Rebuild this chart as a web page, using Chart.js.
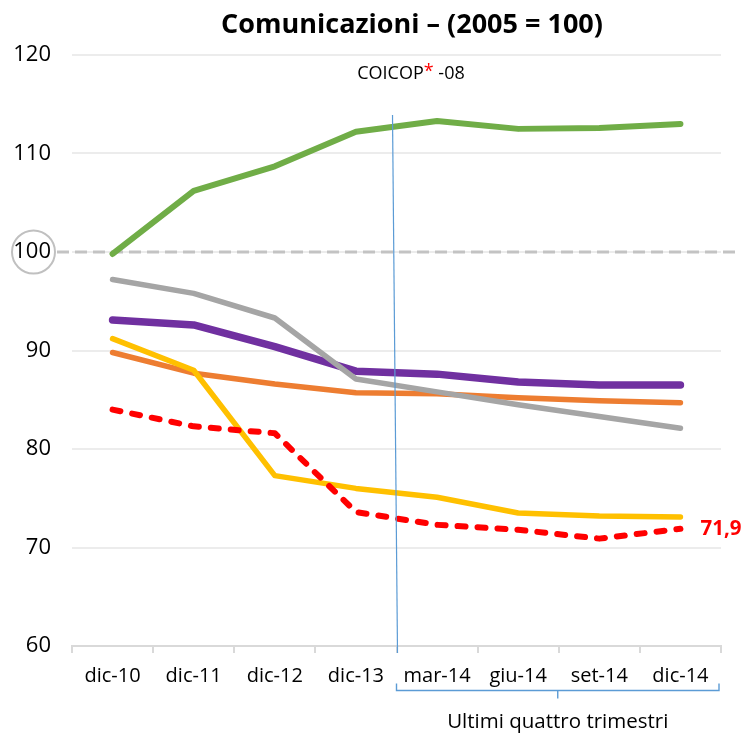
<!DOCTYPE html>
<html>
<head>
<meta charset="utf-8">
<script src="https://cdn.jsdelivr.net/npm/chart.js@4/dist/chart.umd.min.js"></script>
<style>
  html, body { margin: 0; padding: 0; background: #ffffff; }
  #wrap { position: relative; width: 745px; height: 738px; }
</style>
</head>
<body>
<div id="wrap"><canvas id="chart" width="745" height="738"></canvas></div>
<script>
// Indici dei prezzi - Comunicazioni (base 2005 = 100)
const categories = ['dic-10', 'dic-11', 'dic-12', 'dic-13', 'mar-14', 'giu-14', 'set-14', 'dic-14'];

const seriesRed    = [84.0, 82.3, 81.6, 73.6, 72.3, 71.8, 70.9, 71.9];
const seriesGray   = [97.2, 95.8, 93.3, 87.1, 85.8, 84.5, 83.3, 82.1];
const seriesGreen  = [99.8, 106.2, 108.7, 112.2, 113.3, 112.5, 112.6, 113.0];
const seriesPurple = [93.1, 92.6, 90.4, 87.9, 87.6, 86.8, 86.5, 86.5];
const seriesOrange = [89.8, 87.7, 86.6, 85.7, 85.6, 85.2, 84.9, 84.7];
const seriesYellow = [91.2, 88.0, 77.3, 76.0, 75.1, 73.5, 73.2, 73.1];

const yTicks = [60, 70, 80, 90, 100, 110, 120];
const baseValue = 100;        // riferimento 2005 = 100
const separatorTop = 113.9;   // estremo superiore della linea di separazione
const lastQuarterStart = 4;   // primo degli ultimi quattro trimestri

const FONT = '"Open Sans", Lato, sans-serif';

function lineDs(data, color, width, extra) {
  return Object.assign({
    data: data,
    borderColor: color,
    backgroundColor: color,
    borderWidth: width,
    pointRadius: 0,
    pointHoverRadius: 0,
    tension: 0,
    borderCapStyle: 'round',
    borderJoinStyle: 'round',
    fill: false
  }, extra || {});
}

const decorations = {
  id: 'decorations',
  beforeDatasetsDraw(chart) {
    const { ctx, scales: { y } } = chart;
    const yy = y.getPixelForValue(baseValue);
    ctx.save();
    // linea tratteggiata a quota 100
    ctx.strokeStyle = '#c3c3c3';
    ctx.lineWidth = 3;
    ctx.setLineDash([12, 6]);
    ctx.beginPath();
    ctx.moveTo(57, yy);
    ctx.lineTo(738, yy);
    ctx.stroke();
    ctx.setLineDash([]);
    // cerchio intorno all'etichetta 100
    ctx.strokeStyle = '#c0c0c0';
    ctx.lineWidth = 2;
    ctx.beginPath();
    ctx.arc(33.5, yy, 21.5, 0, Math.PI * 2);
    ctx.stroke();
    ctx.restore();
  },
  afterDatasetsDraw(chart) {
    const { ctx, scales: { x, y } } = chart;
    ctx.save();
    // separatore tra dati annuali e trimestrali
    const xs = (x.getPixelForValue(lastQuarterStart - 1) + x.getPixelForValue(lastQuarterStart)) / 2;
    ctx.strokeStyle = '#5b9bd5';
    ctx.lineWidth = 1.2;
    ctx.beginPath();
    ctx.moveTo(xs - 4, y.getPixelForValue(separatorTop));
    ctx.lineTo(xs + 1, y.bottom + 7);
    ctx.stroke();

    // parentesi sotto gli ultimi quattro trimestri
    const xr = x.right - 2;
    const yb = 690.5;
    const xm = (xs + xr) / 2;
    ctx.lineWidth = 1.4;
    ctx.beginPath();
    ctx.moveTo(xs, yb - 7);
    ctx.lineTo(xs, yb);
    ctx.lineTo(xr, yb);
    ctx.lineTo(xr, yb - 7);
    ctx.moveTo(xm, yb);
    ctx.lineTo(xm, yb + 8);
    ctx.stroke();

    // titolo
    ctx.fillStyle = '#000000';
    ctx.textAlign = 'center';
    ctx.textBaseline = 'middle';
    ctx.font = 'bold 27px ' + FONT;
    ctx.fillText('Comunicazioni \u2013 (2005 = 100)', 412, 25);

    // sottotitolo COICOP* -08
    ctx.font = '18px ' + FONT;
    const p1 = 'COICOP', p2 = '*', p3 = ' -08';
    const w1 = ctx.measureText(p1).width, w2 = ctx.measureText(p2).width, w3 = ctx.measureText(p3).width;
    let sx = 411 - (w1 + w2 + w3) / 2;
    ctx.textAlign = 'left';
    ctx.fillText(p1, sx, 74);
    ctx.fillStyle = '#ff0000';
    ctx.fillText(p2, sx + w1, 72);
    ctx.fillStyle = '#000000';
    ctx.fillText(p3, sx + w1 + w2, 74);

    // nota sotto l'asse
    ctx.textAlign = 'center';
    ctx.font = '20.5px ' + FONT;
    ctx.fillText('Ultimi quattro trimestri', xm, 722);

    // valore finale della serie rossa
    const meta = chart.getDatasetMeta(0);
    const last = meta.data[meta.data.length - 1];
    const v = seriesRed[seriesRed.length - 1];
    ctx.fillStyle = '#ff0000';
    ctx.font = 'bold 20.5px ' + FONT;
    ctx.textAlign = 'left';
    ctx.fillText(v.toFixed(1).replace('.', ','), last.x + 20, last.y);
    ctx.restore();
  }
};

new Chart(document.getElementById('chart'), {
  type: 'line',
  data: {
    labels: categories,
    datasets: [
      lineDs(seriesRed, '#ff0000', 6, { borderDash: [8, 12] }),
      lineDs(seriesGray, '#a5a5a5', 5.5),
      lineDs(seriesGreen, '#70ad47', 6),
      lineDs(seriesPurple, '#7030a0', 7.5),
      lineDs(seriesYellow, '#ffc000', 5.5),
      lineDs(seriesOrange, '#ed7d31', 5.5)
    ]
  },
  options: {
    responsive: false,
    animation: false,
    events: [],
    layout: { padding: { top: 55, right: 24, left: 0, bottom: 0 } },
    plugins: {
      legend: { display: false },
      title: { display: false },
      tooltip: { enabled: false }
    },
    scales: {
      x: {
        offset: true,
        afterFit(scale) { scale.height = 92; },
        grid: {
          offset: true,
          drawOnChartArea: false,
          drawTicks: true,
          tickLength: 7,
          color: '#d9d9d9',
          lineWidth: 2
        },
        border: { display: true, color: '#d9d9d9', width: 2 },
        ticks: {
          color: '#000000',
          font: { family: FONT, size: 20 },
          padding: 11,
          maxRotation: 0,
          autoSkip: false
        }
      },
      y: {
        min: 60,
        max: 120,
        afterFit(scale) { scale.width = 72; },
        afterBuildTicks(scale) { scale.ticks = yTicks.map(v => ({ value: v })); },
        grid: { color: '#ececec', lineWidth: 2, drawTicks: false },
        border: { display: false },
        ticks: {
          color: '#000000',
          font: { family: FONT, size: 22 },
          padding: 21
        }
      }
    }
  },
  plugins: [decorations]
});
</script>
</body>
</html>
